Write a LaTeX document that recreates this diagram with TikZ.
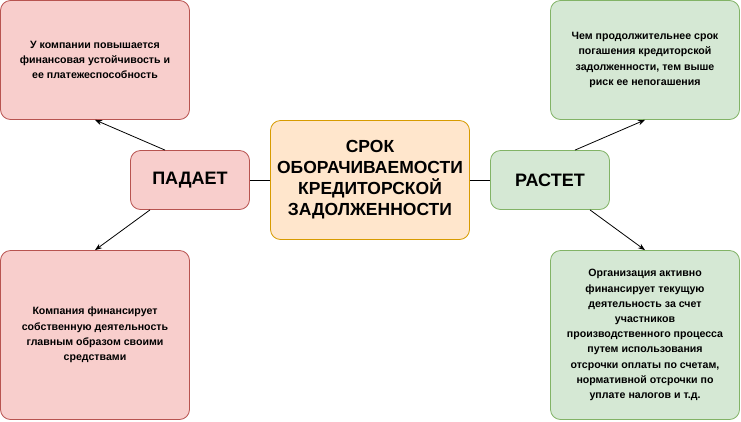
\documentclass[tikz,border=0pt]{standalone}
\usepackage{fontspec}
\setmainfont{Liberation Sans}
\usetikzlibrary{positioning,arrows.meta}
\definecolor{redfill}{HTML}{F8CECC}
\definecolor{redline}{HTML}{B85450}
\definecolor{greenfill}{HTML}{D5E8D4}
\definecolor{greenline}{HTML}{82B366}
\definecolor{orangefill}{HTML}{FFE6CC}
\definecolor{orangeline}{HTML}{D79B00}
\begin{document}
\begin{tikzpicture}[x=1pt,y=-1pt,
                    box/.style={draw, rounded corners=10pt, line width=0.8pt, align=center,
                    font=\bfseries, inner sep=0pt},
                    note/.style={box, minimum width=189pt, minimum height=119pt,
                    font=\bfseries\fontsize{10.6}{15.2}\selectfont},
                    bad/.style={fill=redfill, draw=redline},
                    good/.style={fill=greenfill, draw=greenline},
                    link/.style={line width=0.8pt},
                ]
                \useasboundingbox (0,0) rectangle (741,421);
                \node[box, fill=orangefill, draw=orangeline, minimum width=199pt, minimum height=119pt,
                font=\bfseries\fontsize{17.5}{21}\selectfont] (term) at (370,180)
                {СРОК\\ОБОРАЧИВАЕМОСТИ\\КРЕДИТОРСКОЙ\\ЗАДОЛЖЕННОСТИ};
                \node[box, bad, minimum width=119pt, minimum height=59pt,
                font=\bfseries\fontsize{18}{21}\selectfont] (falls) at (190,180) {ПАДАЕТ};
                \node[box, good, minimum width=119pt, minimum height=59pt,
                font=\bfseries\fontsize{18}{21}\selectfont] (grows) at (550,180) {РАСТЕТ};
                \node[note, bad] (falltop) at (95,60)
                {У компании повышается\\финансовая устойчивость и\\ее платежеспособность};
                \node[note, bad, minimum height=169pt] (fallbot) at (95,335)
                {Компания финансирует\\собственную деятельность\\главным образом своими\\средствами};
                \node[note, good] (growtop) at (645,60)
                {Чем продолжительнее срок\\погашения кредиторской\\задолженности, тем выше\\риск ее непогашения};
                \node[note, good, minimum height=169pt] (growbot) at (645,335)
                {Организация активно\\финансирует текущую\\деятельность за счет\\участников\\производственного процесса\\путем использования\\отсрочки оплаты по счетам,\\нормативной отсрочки по\\уплате налогов и т.д.};

                \draw[link] (term.west) -- (falls.east);
                \draw[link] (term.east) -- (grows.west);
                \draw[link, -{Stealth[length=7pt]}] ([xshift=-25pt]falls.north) -- (falltop.south);
                \draw[link, -{Stealth[length=7pt]}] ([xshift=-40pt]falls.south) -- (fallbot.north);
                \draw[link, -{Stealth[length=7pt]}] ([xshift=25pt]grows.north) -- (growtop.south);
                \draw[link, -{Stealth[length=7pt]}] ([xshift=40pt]grows.south) -- (growbot.north);
            \end{tikzpicture}
\end{document}
